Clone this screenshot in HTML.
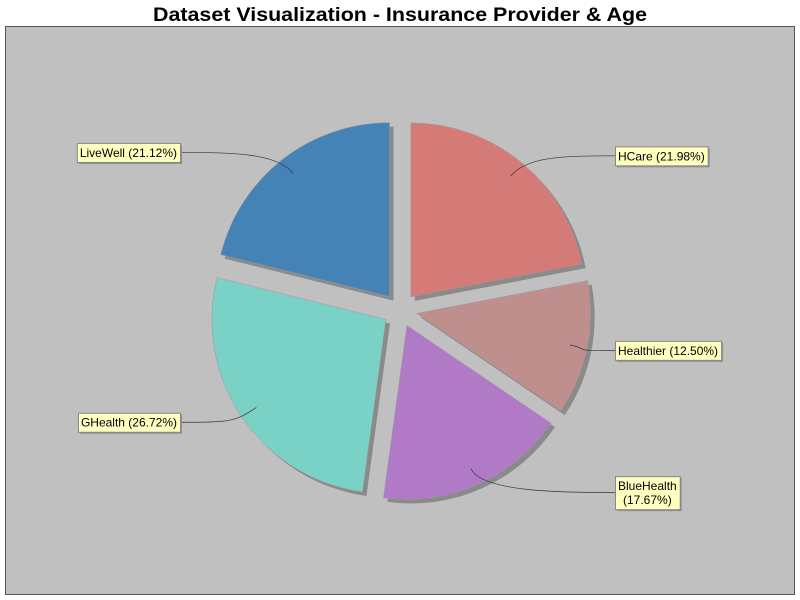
<!DOCTYPE html>
<html><head><meta charset="utf-8"><style>
html,body{margin:0;padding:0;background:#fff;}
svg{display:block;font-family:"Liberation Sans",sans-serif;}
</style></head><body>
<svg id="chart" width="800" height="600">
<rect x="0" y="0" width="800" height="600" fill="#ffffff"/>
<text x="153" y="21" font-size="19" font-weight="bold" fill="#000" textLength="494" lengthAdjust="spacingAndGlyphs">Dataset Visualization - Insurance Provider &amp; Age</text>
<rect x="5.5" y="26.5" width="789" height="568" fill="#c0c0c0" stroke="#555" stroke-width="1"/>
<g id="shadows"></g><g id="slices"></g><g id="links"></g><g id="labels"></g>
</svg>
<script>
const categories = ["HCare","Healthier","BlueHealth","GHealth","LiveWell"];
const values = [21.98,12.50,17.67,26.72,21.12];
const colors = ["#d47a77","#be8f8d","#b17ac7","#7ad2c6","#4582b5"];
const NS="http://www.w3.org/2000/svg";
const cx=400, cy=310, r=174, d=17;
const FS=12;
const total=values.reduce((a,b)=>a+b,0);
const sh=document.getElementById('shadows'), sl=document.getElementById('slices'),
      lk=document.getElementById('links'), lb=document.getElementById('labels');
function pt(ox,oy,rad,a){return [ox+rad*Math.cos(a), oy-rad*Math.sin(a)];}
let cum=0;
categories.forEach((cat,i)=>{
  const v=values[i];
  const a0=(90-cum/total*360)*Math.PI/180;
  const a1=(90-(cum+v)/total*360)*Math.PI/180;
  const am=(a0+a1)/2;
  cum+=v;
  const ox=cx+d*Math.cos(am), oy=cy-d*Math.sin(am);
  const p0=pt(ox,oy,r,a0), p1=pt(ox,oy,r,a1);
  const large=(a0-a1)>Math.PI?1:0;
  const dstr=`M${ox},${oy} L${p0[0]},${p0[1]} A${r},${r} 0 ${large} 1 ${p1[0]},${p1[1]} Z`;
  const s=document.createElementNS(NS,'path');
  s.setAttribute('d',dstr);s.setAttribute('fill','#8a8a8a');s.setAttribute('transform','translate(4,4)');
  
  
  sh.appendChild(s);
  const p=document.createElementNS(NS,'path');
  p.setAttribute('d',dstr);p.setAttribute('fill',colors[i]);p.setAttribute('stroke','#999');p.setAttribute('stroke-width','0.5');
  
  
  sl.appendChild(p);
  const right=Math.cos(am)>=0;
  const ly=cy-200*Math.sin(am);
  const txt=cat+" ("+v.toFixed(2)+"%)";
  const g=document.createElementNS(NS,'g');
  
  
  lb.appendChild(g);
  const lines = txt.length>18 ? [cat,"("+v.toFixed(2)+"%)"] : [txt];
  const t=document.createElementNS(NS,'text');
  t.setAttribute('font-size',FS);t.setAttribute('fill','#000');
  g.appendChild(t);
  lines.forEach((ln,k)=>{const ts=document.createElementNS(NS,'tspan');ts.textContent=ln;t.appendChild(ts);});
  const widths=lines.map(ln=>{const tmp=document.createElementNS(NS,'text');tmp.setAttribute('font-size',FS);tmp.textContent=ln;lb.appendChild(tmp);const w=tmp.getComputedTextLength();lb.removeChild(tmp);return w;});
  const mw=Math.max(...widths);
  const bw=mw+6, bh=lines.length*14+5;
  const bx=right?615:180-bw, by=ly-bh/2;
  const shd=document.createElementNS(NS,'rect');
  shd.setAttribute('x',bx+2);shd.setAttribute('y',by+2);shd.setAttribute('width',bw);shd.setAttribute('height',bh);shd.setAttribute('fill','#909090');
  
  
  g.insertBefore(shd,t);
  const box=document.createElementNS(NS,'rect');
  box.setAttribute('x',bx+0.5);box.setAttribute('y',by+0.5);box.setAttribute('width',bw);box.setAttribute('height',bh);box.setAttribute('fill','#ffffc0');box.setAttribute('stroke','#888');
  
  
  g.insertBefore(box,t);
  Array.from(t.childNodes).forEach((ts,k)=>{
    ts.setAttribute('x',bx+3+(mw-widths[k])/2);ts.setAttribute('y',by+14+k*14);
  });
  const s0=pt(ox,oy,r*0.9,am);
  const ex=right?bx:bx+bw;
  const c1=pt(ox,oy,r*1.05,am);
  const c2x=right?ex-50:ex+50;
  const l=document.createElementNS(NS,'path');
  l.setAttribute('d',`M${s0[0]},${s0[1]} C${c1[0]},${c1[1]} ${c2x},${ly} ${ex},${ly}`);
  l.setAttribute('fill','none');l.setAttribute('stroke','#333');l.setAttribute('stroke-width','0.7');
  
  
  lk.appendChild(l);
});
</script>
</body></html>
